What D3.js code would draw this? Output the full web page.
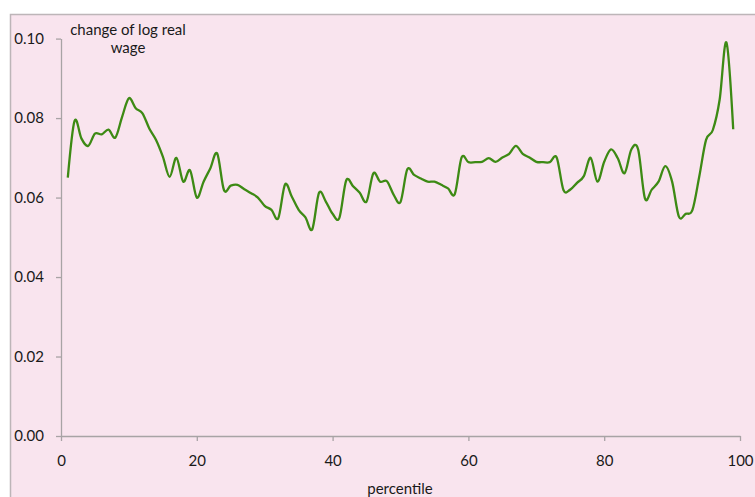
<!DOCTYPE html>
<html>
<head>
<meta charset="utf-8">
<script src="https://cdn.jsdelivr.net/npm/d3@7"></script>
<style>
  html, body { margin: 0; padding: 0; background: #fff; }
  svg { display: block; font-family: Lato, "Open Sans", sans-serif; }
</style>
</head>
<body>
<div id="chart"></div>
<script>
const percentiles = [
  1, 2, 3, 4, 5, 6, 7, 8, 9, 10, 11, 12, 13, 14, 15, 16, 17, 18, 19, 20,
  21, 22, 23, 24, 25, 26, 27, 28, 29, 30, 31, 32, 33, 34, 35, 36, 37, 38, 39, 40,
  41, 42, 43, 44, 45, 46, 47, 48, 49, 50, 51, 52, 53, 54, 55, 56, 57, 58, 59, 60,
  61, 62, 63, 64, 65, 66, 67, 68, 69, 70, 71, 72, 73, 74, 75, 76, 77, 78, 79, 80,
  81, 82, 83, 84, 85, 86, 87, 88, 89, 90, 91, 92, 93, 94, 95, 96, 97, 98, 99
];

const wageChange = [
  0.0650, 0.0793, 0.0749, 0.0730, 0.0761, 0.0759, 0.0771, 0.0751, 0.0803, 0.0850,
  0.0825, 0.0812, 0.0774, 0.0745, 0.0703, 0.0652, 0.0700, 0.0640, 0.0669, 0.0600,
  0.0640, 0.0674, 0.0711, 0.0619, 0.0630, 0.0632, 0.0621, 0.0611, 0.0600, 0.0579,
  0.0569, 0.0548, 0.0633, 0.0602, 0.0569, 0.0550, 0.0520, 0.0612, 0.0590, 0.0559,
  0.0549, 0.0643, 0.0629, 0.0612, 0.0590, 0.0661, 0.0640, 0.0641, 0.0607, 0.0589,
  0.0671, 0.0657, 0.0648, 0.0640, 0.0640, 0.0632, 0.0623, 0.0609, 0.0701, 0.0689,
  0.0689, 0.0690, 0.0699, 0.0690, 0.0701, 0.0710, 0.0730, 0.0710, 0.0701, 0.0690,
  0.0689, 0.0689, 0.0701, 0.0619, 0.0620, 0.0637, 0.0654, 0.0700, 0.0640, 0.0690,
  0.0721, 0.0699, 0.0661, 0.0721, 0.0721, 0.0598, 0.0620, 0.0640, 0.0679, 0.0640,
  0.0552, 0.0559, 0.0569, 0.0653, 0.0745, 0.0770, 0.0846, 0.0990, 0.0772
];

const xTicks = [0, 20, 40, 60, 80, 100];
const yTicks = [0, 0.02, 0.04, 0.06, 0.08, 0.10];
const yTitle = ["change of log real", "wage"];
const xTitle = "percentile";

const width = 755, height = 497;
const plotLeft = 61, plotRight = 740, plotTop = 38.6, plotBottom = 436;

const svg = d3.select("#chart")
  .append("svg")
  .attr("width", width)
  .attr("height", height);

// chart area
svg.append("rect")
  .attr("x", 10.5)
  .attr("y", 14.5)
  .attr("width", width + 10)
  .attr("height", height + 10)
  .attr("fill", "#f9e4ee")
  .attr("stroke", "#bdb5b8")
  .attr("stroke-width", 1.5);

const x = d3.scaleLinear()
  .domain([0, 100])
  .range([plotLeft, plotRight]);

const y = d3.scaleLinear()
  .domain([0, 0.10])
  .range([plotBottom, plotTop]);

const xAxis = svg.append("g")
  .attr("transform", `translate(0,${plotBottom})`)
  .call(d3.axisBottom(x)
    .tickValues(xTicks)
    .tickSize(5)
    .tickSizeOuter(0)
    .tickPadding(14));

const yAxis = svg.append("g")
  .attr("transform", `translate(${plotLeft},0)`)
  .call(d3.axisLeft(y)
    .tickValues(yTicks)
    .tickFormat(d3.format(".2f"))
    .tickSize(5)
    .tickSizeOuter(0)
    .tickPadding(12));

[xAxis, yAxis].forEach(g => {
  g.select(".domain").attr("stroke", "#a8a3a5").attr("stroke-width", 1.3);
  g.selectAll(".tick line").attr("stroke", "#a8a3a5").attr("stroke-width", 1.3);
  g.selectAll(".tick text")
    .attr("fill", "#1a1a1a")
    .style("font-size", "15px")
    .style("font-family", "Lato, 'Open Sans', sans-serif");
});

const line = d3.line()
  .x((d, i) => x(percentiles[i]))
  .y(d => y(d))
  .curve(d3.curveCardinal.tension(0));

svg.append("path")
  .datum(wageChange)
  .attr("fill", "none")
  .attr("stroke", "#3d8a14")
  .attr("stroke-width", 2.3)
  .attr("stroke-linejoin", "round")
  .attr("d", line);

svg.selectAll("text.ytitle")
  .data(yTitle)
  .enter()
  .append("text")
  .attr("class", "ytitle")
  .attr("x", 128)
  .attr("y", (d, i) => 35 + i * 18)
  .attr("text-anchor", "middle")
  .attr("fill", "#1a1a1a")
  .style("font-size", "15px")
  .text(d => d);

svg.append("text")
  .attr("x", 400)
  .attr("y", 494)
  .attr("text-anchor", "middle")
  .attr("fill", "#1a1a1a")
  .style("font-size", "15px")
  .text(xTitle);
</script>
</body>
</html>
